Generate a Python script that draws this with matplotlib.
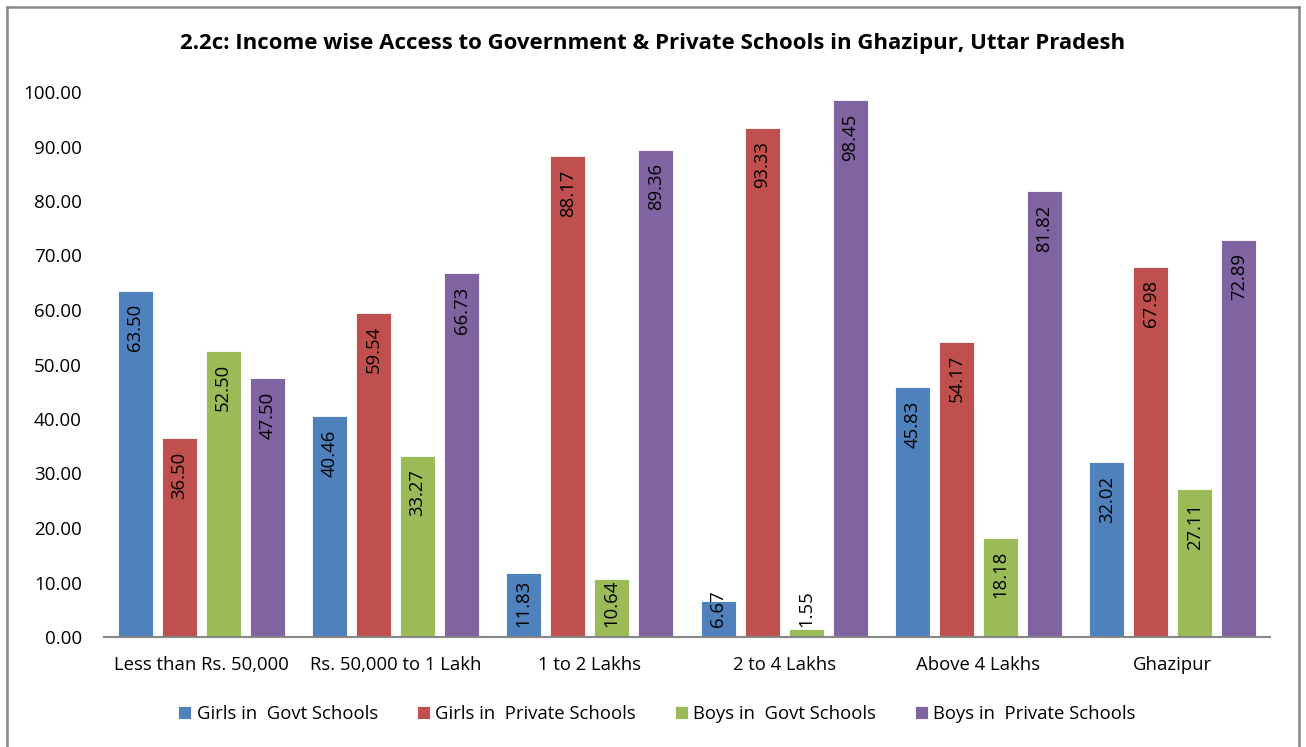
import numpy as np
import matplotlib
matplotlib.use("Agg")
import matplotlib.pyplot as plt
from matplotlib.lines import Line2D

plt.rcParams['font.family'] = ['Open Sans', 'DejaVu Sans']

categories = ["Less than Rs. 50,000", "Rs. 50,000 to 1 Lakh", "1 to 2 Lakhs",
              "2 to 4 Lakhs", "Above 4 Lakhs", "Ghazipur"]
series_names = ["Girls in  Govt Schools", "Girls in  Private Schools",
                "Boys in  Govt Schools", "Boys in  Private Schools"]
girls_govt = [63.50, 40.46, 11.83, 6.67, 45.83, 32.02]
girls_private = [36.50, 59.54, 88.17, 93.33, 54.17, 67.98]
boys_govt = [52.50, 33.27, 10.64, 1.55, 18.18, 27.11]
boys_private = [47.50, 66.73, 89.36, 98.45, 81.82, 72.89]
colors = ["#4F81BD", "#C0504D", "#9BBB59", "#8064A2"]

W, H = 1306, 747
fig = plt.figure(figsize=(W / 100, H / 100), dpi=100)
ax = fig.add_axes([104 / W, (H - 637) / H, (1270 - 104) / W, 545 / H])

x = np.arange(len(categories))
pitch = 0.2265
width = 0.18
all_series = [girls_govt, girls_private, boys_govt, boys_private]

labels = []
for i, (vals, name, c) in enumerate(zip(all_series, series_names, colors)):
    pos = x + (i - 1.5) * pitch
    ax.bar(pos, vals, width, color=c, label=name, edgecolor='#ffffff', linewidth=0.6)
    for px, v in zip(pos, vals):
        t = ax.annotate(f"{v:.2f}", (px, v), xytext=(0, -9.5), textcoords='offset points',
                        rotation=90, ha='center', va='top', fontsize=13.3, color='black')
        labels.append((t, px))

ax.set_xlim(-0.5, len(categories) - 0.5)
ax.set_ylim(0, 100)
ax.set_yticks(np.arange(0, 101, 10))
ax.set_yticklabels([f"{t:.2f}" for t in np.arange(0, 101, 10)], fontsize=13.5)
ax.set_xticks(x)
ax.set_xticklabels(categories, fontsize=13.3)
ax.tick_params(axis='x', length=0, pad=14)
ax.tick_params(axis='y', length=0, pad=16)
for side in ['top', 'right', 'left']:
    ax.spines[side].set_visible(False)
ax.spines['bottom'].set_color('#868686')
ax.spines['bottom'].set_linewidth(1.5)

# labels that would run into the axis get pushed up from the base instead
fig.canvas.draw()
axis_y = ax.transData.transform((0, 0))[1]
for t, px in labels:
    bb = t.get_window_extent()
    if bb.y0 < axis_y + 10:
        t.xy = (px, 0)
        t.set_va('bottom')
        t.set_position((0, 7.5))

fig.text(653 / W, 1 - 44 / H, "2.2c: Income wise Access to Government & Private Schools in Ghazipur, Uttar Pradesh",
         ha='center', va='center', fontsize=16, fontweight='bold')

fig.legend(loc='center', bbox_to_anchor=(657 / W, 1 - 714 / H), ncol=4, frameon=False,
           fontsize=13.3, handlelength=0.7, handleheight=0.7, handletextpad=0.3, columnspacing=2.1)

# chart frame
gray = '#888888'
for xs, ys in [([7, 7], [7, H]), ([7, 1299], [7, 7]), ([1299, 1299], [7, H])]:
    fig.add_artist(Line2D([v / W for v in xs], [1 - v / H for v in ys], color=gray, linewidth=1.8,
                          transform=fig.transFigure))

fig.savefig("out.png", dpi=100)
